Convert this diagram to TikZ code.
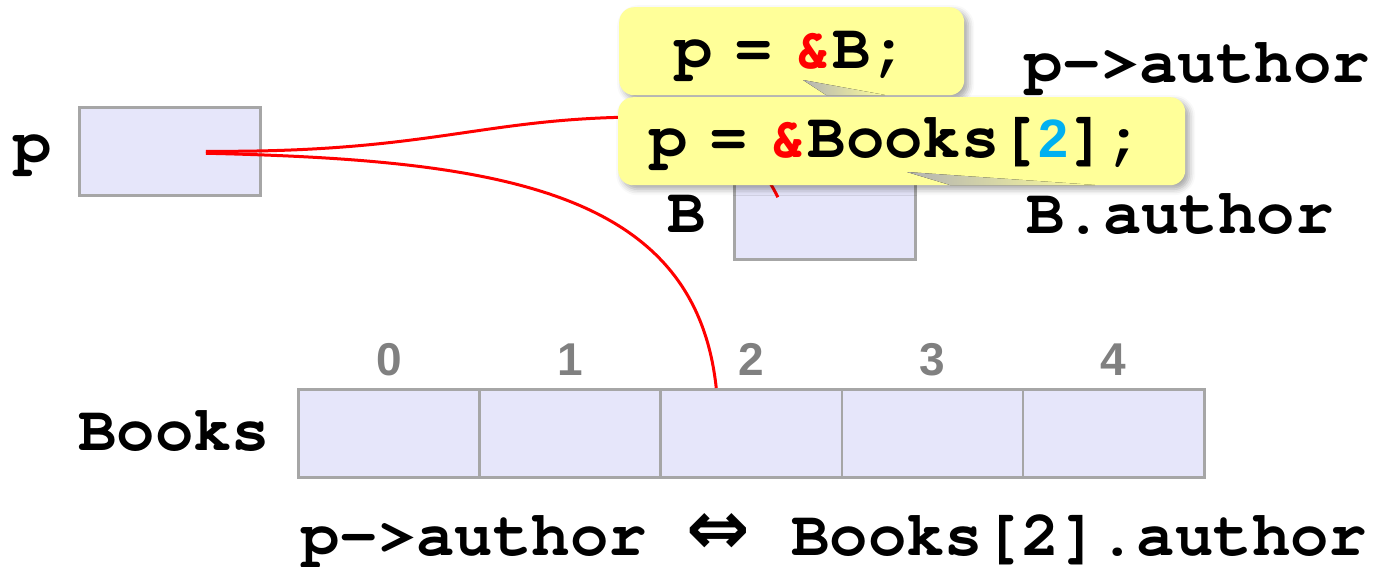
\documentclass[tikz,border=0pt]{standalone}
\usepackage[T1]{fontenc}
\usepackage{fontspec}
\setsansfont{Liberation Sans}
\newfontfamily\arrfont{DejaVu Sans}
\newcommand\courfont{\fontencoding{T1}\fontfamily{pcr}\fontseries{b}\selectfont}
\usetikzlibrary{shadows.blur}
\definecolor{mred}{rgb}{1, 0, 0}
\definecolor{mblue}{HTML}{00B0F0}
\definecolor{cellfill}{HTML}{E6E6FA}
\definecolor{cellline}{HTML}{A6A6A6}
\definecolor{bubfill}{HTML}{FFFF99}
\definecolor{idxgray}{HTML}{808080}
\tikzset{code/.style = {font=\courfont\fontsize{64}{70}\selectfont, inner sep=0}}
\tikzset{idx/.style = {font=\sffamily\bfseries\fontsize{46}{50}\selectfont, text=idxgray, inner sep=0}}
\tikzset{cell/.style = {draw=cellline, fill=cellfill, line width=2.5, minimum width=181.2, minimum height=88, inner sep=0}}
\tikzset{bub/.style = {fill=bubfill, rounded corners=15, inner sep=0,
                       blur shadow={shadow xshift=4pt, shadow yshift=-4pt, shadow blur radius=6pt, shadow opacity=35}}}
\tikzset{link/.style = {draw=mred, line width=3}}
\tikzset{fold/.style = {left color=gray!60, right color=bubfill, draw=none}}

\begin{document}
\begin{tikzpicture}[x=1pt, y=-1pt]
    \useasboundingbox (0, 0) rectangle (1375, 566);

    % variables
    \node [code, anchor=base] (plab) at (33, 163) {p};
    \node [cell, anchor=north west] (pbox) at (78, 106) {};
    \node [code, anchor=base] (blab) at (687, 232) {B};
    \node [cell, anchor=north west] (bbox) at (733, 170) {};

    % array
    \node [code, anchor=base west] (alab) at (78, 450) {Books};
    \foreach \i in {0,...,4} {
      \node [cell, anchor=north west] (c\i) at ({297 + 181.2*\i}, 388) {};
      \node [idx, anchor=base] (n\i) at ([yshift=13pt]c\i.north) {\i};
    }

    % pointers
    \draw [link] ([xshift=36pt]pbox.center) .. controls (430, 153) and (480, 118) .. (640, 117)
                 .. controls (720, 116) and (760, 160) .. ([xshift=-47pt, yshift=18pt]bbox.center);
    \draw [link] ([xshift=36pt, yshift=-2pt]pbox.center) .. controls (500, 160) and (695, 190) .. ([xshift=-35pt]c2.north);

    % callouts
    \node [bub, minimum width=345, minimum height=88, anchor=north west] (bub1) at (619, 7) {};
    \node [code, anchor=base west] (txt1) at (674, 68) {p\hspace{21.6pt}=\hspace{21.6pt}\textcolor{mred}{\&}B;};
    \fill [fold] (803, 80) -- (885, 95) -- (826, 95) -- cycle;

    \node [bub, minimum width=567, minimum height=88, anchor=north west] (bub2) at (618, 97) {};
    \node [code, anchor=base west] (txt2) at (649, 157) {p\hspace{21.6pt}=\hspace{21.6pt}\textcolor{mred}{\&}Books[{\sffamily\bfseries\fontsize{54}{60}\selectfont\textcolor{mblue}{2}}];};
    \fill [fold] (907, 172) -- (1095, 185) -- (950, 185) -- cycle;

    % access
    \node [code, anchor=base west] (acc1) at (1024, 82) {p->author};
    \node [code, anchor=base west] (acc2) at (1026, 233) {B.author};

    \node [code, anchor=base west] (eql) at (301, 555) {p->author};
    \node [inner sep=0, anchor=base, text depth=0pt, font=\arrfont\bfseries\fontsize{76}{80}\selectfont] (eqs) at (718, 554) {⇔};
    \node [code, anchor=base west] (eqr) at (791, 555) {Books[2].author};
\end{tikzpicture}
\end{document}
